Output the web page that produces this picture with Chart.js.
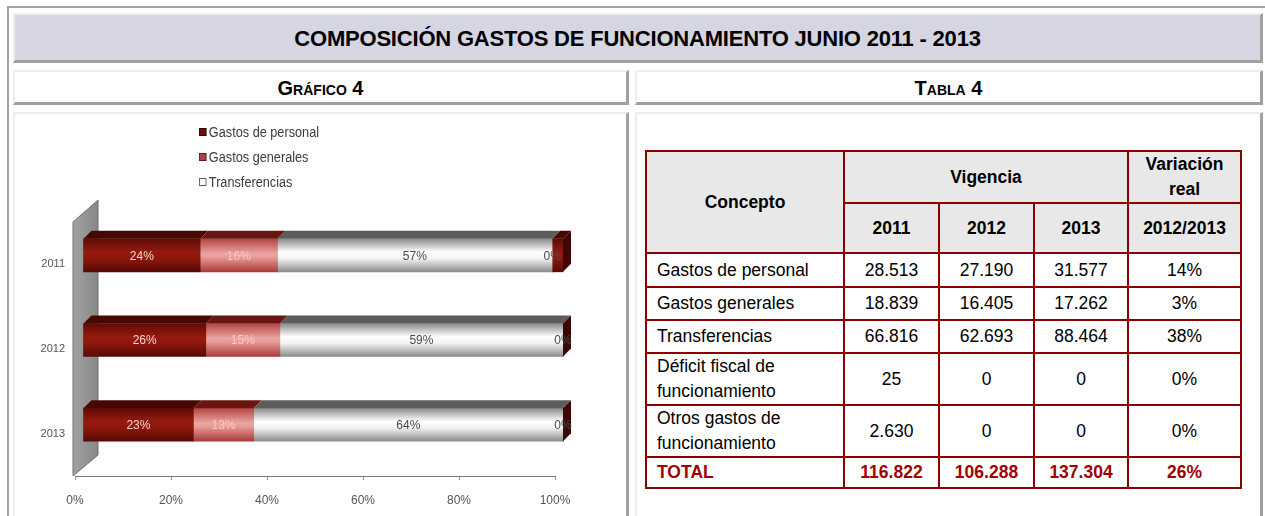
<!DOCTYPE html>
<html lang="es">
<head>
<meta charset="utf-8">
<title>Composición gastos de funcionamiento junio 2011 - 2013</title>
<script src="https://cdn.jsdelivr.net/npm/chart.js@4.4.1/dist/chart.umd.min.js"></script>
<style>
  html, body { margin: 0; padding: 0; background: #fff; }
  body { width: 1265px; height: 516px; position: relative; overflow: hidden;
         font-family: "Liberation Sans", Arial, sans-serif; color: #000; }
  .marco { position: absolute; left: 7px; top: 6px; width: 1300px; height: 560px;
           border-top: 2px solid #a3a3a3; border-left: 2px solid #a3a3a3; }
  .caja { position: absolute; box-sizing: border-box; background: #fff;
          border-top: 2px solid #eeeeee; border-left: 2px solid #eeeeee;
          border-right: 3px solid #a0a0a0; border-bottom: 3px solid #a0a0a0; }
  #titulo { left: 13px; top: 13px; width: 1250px; height: 50px; background: #d6d6e3;
            font-weight: bold; font-size: 22px; letter-spacing: -0.2px;
            text-align: center; line-height: 48px; }
  .sub { top: 70px; height: 35px; font-weight: bold; font-size: 20px;
         font-variant: small-caps; text-align: center; line-height: 33px; }
  #subGrafico { left: 13px; width: 616px; }
  #subTabla { left: 635px; width: 628px; }
  .contenido { top: 112px; height: 440px; }
  #cajaGrafico { left: 13px; width: 616px; }
  #cajaTabla { left: 635px; width: 628px; }
  #grafico4 { position: absolute; left: 15px; top: 114px; }
  #leyenda { position: absolute; left: 199px; top: 119px; transform: scaleX(0.82);
             transform-origin: left top; font-size: 15.5px; color: #3c3c3c; }
  #leyenda div { height: 25px; line-height: 25px; white-space: nowrap; }
  #leyenda span { display: inline-block; width: 7px; height: 6px; margin-right: 3px;
                  vertical-align: 1px; border: 1px solid #444; }
  #tabla4 { position: absolute; left: 645px; top: 150px; width: 595px;
            border-collapse: collapse; table-layout: fixed; font-size: 17.5px; }
  #tabla4 td, #tabla4 th { border: 2px solid #8c0000; padding: 0 10px; text-align: center;
                           line-height: 25px; }
  #tabla4 th { background: #e8e8e8; font-weight: bold; }
  #tabla4 td.concepto { text-align: left; }
  #tabla4 tr.total td { color: #a00000; font-weight: bold; }
</style>
</head>
<body>
<div class="marco"></div>
<div class="caja" id="titulo">COMPOSICIÓN GASTOS DE FUNCIONAMIENTO JUNIO 2011 - 2013</div>
<div class="caja sub" id="subGrafico">Gráfico 4</div>
<div class="caja sub" id="subTabla">Tabla 4</div>
<div class="caja contenido" id="cajaGrafico"></div>
<div class="caja contenido" id="cajaTabla"></div>

<canvas id="grafico4" width="610" height="402"></canvas>
<div id="leyenda"></div>

<table id="tabla4">
  <colgroup>
    <col style="width:198px"><col style="width:95px"><col style="width:95px">
    <col style="width:94px"><col style="width:113px">
  </colgroup>
  <thead>
    <tr style="height:50px">
      <th rowspan="2">Concepto</th>
      <th colspan="3">Vigencia</th>
      <th>Variación<br>real</th>
    </tr>
    <tr style="height:50px" id="filaAnios"></tr>
  </thead>
  <tbody id="cuerpoTabla"></tbody>
</table>

<script>
// Valores de la Tabla 4 (por vigencia 2011, 2012, 2013)
const anios = ['2011', '2012', '2013'];
const gastosPersonal = [28513, 27190, 31577];
const gastosGenerales = [18839, 16405, 17262];
const transferencias = [66816, 62693, 88464];
const deficitFiscal = [25, 0, 0];
const otrosGastos = [2630, 0, 0];
const totales = [116822, 106288, 137304];
const variacionReal = ['14%', '3%', '38%', '0%', '0%'];
const variacionTotal = '26%';
const periodoVariacion = '2012/2013';
const ticksX = ['0%', '20%', '40%', '60%', '80%', '100%'];

// ---- Tabla ----
const miles = (n) => String(n).replace(/\B(?=(\d{3})+(?!\d))/g, '.');

const filaAnios = document.getElementById('filaAnios');
anios.concat([periodoVariacion]).forEach(a => {
    const th = document.createElement('th');
    th.textContent = a;
    filaAnios.appendChild(th);
});

const filas = [
    ['Gastos de personal', gastosPersonal, 34],
    ['Gastos generales', gastosGenerales, 33],
    ['Transferencias', transferencias, 33],
    ['Déficit fiscal de funcionamiento', deficitFiscal, 50],
    ['Otros gastos de funcionamiento', otrosGastos, 50],
];
const cuerpo = document.getElementById('cuerpoTabla');
filas.forEach(([nombre, valores, alto], i) => {
    const tr = document.createElement('tr');
    tr.style.height = alto + 'px';
    let html = '<td class="concepto">' + nombre + '</td>';
    valores.forEach(v => { html += '<td>' + miles(v) + '</td>'; });
    html += '<td>' + variacionReal[i] + '</td>';
    tr.innerHTML = html;
    cuerpo.appendChild(tr);
});
const trTotal = document.createElement('tr');
trTotal.className = 'total';
trTotal.style.height = '31px';
trTotal.innerHTML = '<td class="concepto">TOTAL</td>' +
    totales.map(v => '<td>' + miles(v) + '</td>').join('') +
    '<td>' + variacionTotal + '</td>';
cuerpo.appendChild(trTotal);

// ---- Gráfico: barras 100% apiladas con efecto 3D ----
const participacion = (serie) => serie.map((v, i) => v / totales[i] * 100);

const GROSOR = 33;                     // alto de la cara frontal
const PROF = { dx: 8, dy: -8 };        // profundidad de las barras
const DESPLAZA = { dx: 8, dy: -9 };    // barras delante del plano de los ejes
const fuente = "'Liberation Sans', Arial, sans-serif";

function degradado(c, paradas) {
    const chart = c.chart;
    if (!chart.chartArea || c.dataIndex === undefined) return paradas[1][1];
    const y = chart.scales.y.getPixelForValue(c.dataIndex);
    const g = chart.ctx.createLinearGradient(0, y - GROSOR / 2, 0, y + GROSOR / 2);
    paradas.forEach(p => g.addColorStop(p[0], p[1]));
    return g;
}

const rojoOscuro = [[0, '#5e0b06'], [0.4, '#941a0e'], [0.6, '#8e170c'], [1, '#560a05']];
const rosado = [[0, '#b24644'], [0.45, '#eca4a2'], [0.55, '#e99c9a'], [1, '#a83c3a']];
const gris = [[0, '#8a8a8a'], [0.4, '#ffffff'], [0.6, '#f2f2f2'], [1, '#8c8c8c']];

const series = [
    { label: 'Gastos de personal', data: participacion(gastosPersonal), paradas: rojoOscuro,
      caraSuperior: '#470804', colorEtiqueta: '#f6d4ce', marca: ['#6e0e08', '#3a0603'] },
    { label: 'Gastos generales', data: participacion(gastosGenerales), paradas: rosado,
      caraSuperior: '#6a1610', colorEtiqueta: '#f6cac4', marca: ['#a04848', '#5a2020'] },
    { label: 'Transferencias', data: participacion(transferencias), paradas: gris,
      caraSuperior: '#5c5c5c', colorEtiqueta: '#4a4a4a', marca: ['#ffffff', '#555555'] },
    { label: 'Déficit fiscal de funcionamiento', data: participacion(deficitFiscal), paradas: rojoOscuro,
      caraSuperior: '#470804', colorEtiqueta: '#4a4a4a', enLeyenda: false },
    { label: 'Otros gastos de funcionamiento', data: participacion(otrosGastos), paradas: rojoOscuro,
      caraSuperior: '#470804', colorEtiqueta: null, enLeyenda: false },
];

// Leyenda
const leyenda = document.getElementById('leyenda');
series.filter(s => s.enLeyenda !== false).forEach(s => {
    const d = document.createElement('div');
    d.innerHTML = '<span style="background:' + s.marca[0] + ';border-color:' + s.marca[1] + '"></span>' + s.label;
    leyenda.appendChild(d);
});

const barras3d = {
    id: 'barras3d',
    beforeDatasetsDraw(chart) {
        const { ctx, chartArea: a, scales: { x } } = chart;
        const x0 = x.getPixelForValue(0);
        // pared lateral gris
        ctx.save();
        ctx.beginPath();
        ctx.moveTo(x0 - 2, a.bottom);
        ctx.lineTo(x0 - 2, a.top);
        ctx.lineTo(x0 + 23, a.top - 22);
        ctx.lineTo(x0 + 23, a.bottom - 21);
        ctx.closePath();
        const g = ctx.createLinearGradient(x0 - 2, 0, x0 + 23, 0);
        g.addColorStop(0, '#a2a2a2');
        g.addColorStop(1, '#878787');
        ctx.fillStyle = g;
        ctx.fill();
        ctx.strokeStyle = '#707070';
        ctx.lineWidth = 1;
        ctx.stroke();
        ctx.restore();
        // las barras se dibujan delante de la pared
        ctx.save();
        ctx.translate(DESPLAZA.dx, DESPLAZA.dy);
    },
    afterDatasetsDraw(chart) {
        const { ctx } = chart;
        const n = chart.data.datasets.length;
        // caras superiores
        chart.data.datasets.forEach((ds, i) => {
            chart.getDatasetMeta(i).data.forEach(el => {
                if (el.x - el.base <= 0.3) return;
                const top = el.y - el.height / 2;
                ctx.beginPath();
                ctx.moveTo(el.base, top);
                ctx.lineTo(el.base + PROF.dx, top + PROF.dy);
                ctx.lineTo(el.x + PROF.dx, top + PROF.dy);
                ctx.lineTo(el.x, top);
                ctx.closePath();
                ctx.fillStyle = ds.caraSuperior;
                ctx.fill();
            });
        });
        // cara lateral derecha
        chart.getDatasetMeta(n - 1).data.forEach(el => {
            const top = el.y - el.height / 2;
            const bottom = el.y + el.height / 2;
            ctx.beginPath();
            ctx.moveTo(el.x, top);
            ctx.lineTo(el.x + PROF.dx, top + PROF.dy);
            ctx.lineTo(el.x + PROF.dx, bottom + PROF.dy);
            ctx.lineTo(el.x, bottom);
            ctx.closePath();
            ctx.fillStyle = '#3e0604';
            ctx.fill();
        });
        // etiquetas de porcentaje
        ctx.font = '12px ' + fuente;
        ctx.textAlign = 'center';
        ctx.textBaseline = 'middle';
        chart.data.datasets.forEach((ds, i) => {
            if (!ds.colorEtiqueta) return;
            chart.getDatasetMeta(i).data.forEach((el, j) => {
                ctx.fillStyle = ds.colorEtiqueta;
                ctx.fillText(Math.round(ds.data[j]) + '%', (el.x + el.base) / 2, el.y + 1);
            });
        });
        ctx.restore();
    }
};

const ctxGrafico = document.getElementById('grafico4').getContext('2d');

new Chart(ctxGrafico, {
    type: 'bar',
    data: {
        labels: anios,
        datasets: series.map(s => ({
            label: s.label,
            data: s.data,
            backgroundColor: (c) => degradado(c, s.paradas),
            borderWidth: 0,
            barThickness: GROSOR,
            clip: false,
            caraSuperior: s.caraSuperior,
            colorEtiqueta: s.colorEtiqueta,
        })),
    },
    options: {
        indexAxis: 'y',
        responsive: false,
        animation: false,
        layout: { padding: { top: 108, right: 70, left: 0, bottom: 0 } },
        plugins: {
            legend: { display: false },
            tooltip: { enabled: false },
        },
        scales: {
            x: {
                stacked: true,
                min: 0,
                max: 100,
                ticks: {
                    stepSize: 20,
                    padding: 13,
                    color: '#555',
                    font: { size: 12, family: fuente },
                    callback: (v, i) => ticksX[i],
                },
                grid: { display: true, drawOnChartArea: false, drawTicks: true, tickLength: 4, color: '#8a8a8a' },
                border: { display: true, color: '#7a7a7a', width: 1 },
                afterFit: (scale) => { scale.height = 40; },
            },
            y: {
                stacked: true,
                ticks: {
                    padding: 10,
                    color: '#555',
                    font: { size: 11, family: fuente },
                },
                grid: { display: false, drawTicks: false },
                border: { display: false },
                afterFit: (scale) => { scale.width = 60; },
            },
        },
    },
    plugins: [barras3d],
});
</script>
</body>
</html>
